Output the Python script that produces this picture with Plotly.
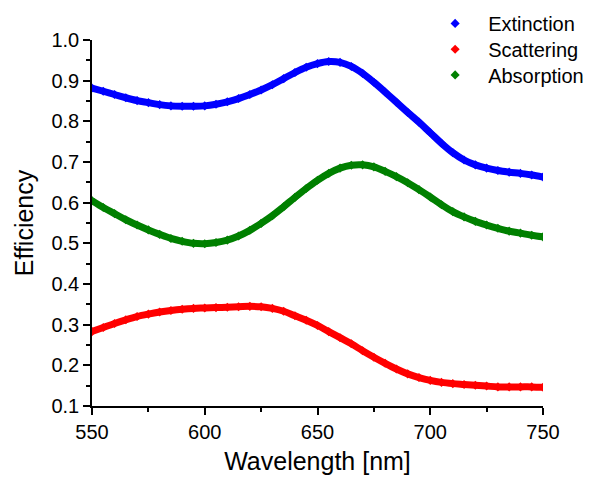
import plotly.graph_objects as go

wavelength = list(range(550, 751, 5))

extinction = [0.882, 0.874, 0.866, 0.858, 0.851, 0.846, 0.841, 0.838, 0.837, 0.837,
              0.838, 0.842, 0.848, 0.856, 0.866, 0.877, 0.890, 0.905, 0.920, 0.933,
              0.942, 0.947, 0.945, 0.935, 0.918, 0.896, 0.872, 0.847, 0.822, 0.798,
              0.772, 0.746, 0.723, 0.705, 0.693, 0.685, 0.679, 0.675, 0.672, 0.668, 0.663]

scattering = [0.283, 0.293, 0.303, 0.312, 0.320, 0.326, 0.331, 0.335, 0.338, 0.340,
              0.341, 0.342, 0.343, 0.344, 0.345, 0.344, 0.340, 0.333, 0.322, 0.311,
              0.298, 0.283, 0.268, 0.253, 0.236, 0.220, 0.205, 0.191, 0.179, 0.170,
              0.163, 0.158, 0.155, 0.153, 0.151, 0.149, 0.147, 0.147, 0.147, 0.147, 0.146]

absorption = [0.605, 0.588, 0.573, 0.558, 0.545, 0.533, 0.522, 0.512, 0.505, 0.500,
              0.499, 0.502, 0.508, 0.518, 0.532, 0.549, 0.568, 0.590, 0.613, 0.635,
              0.655, 0.672, 0.685, 0.692, 0.693, 0.688, 0.677, 0.664, 0.649, 0.632,
              0.614, 0.595, 0.578, 0.565, 0.554, 0.545, 0.537, 0.530, 0.525, 0.520, 0.516]

series = [("Extinction", extinction, "#0000ff"),
          ("Scattering", scattering, "#ff0000"),
          ("Absorption", absorption, "#008000")]

legend_ids = ["legend", "legend2", "legend3"]
legend_y = [1.0986, 1.0281, 0.9579]

fig = go.Figure()
for (name, vals, col), lid in zip(series, legend_ids):
    fig.add_trace(go.Scatter(x=wavelength, y=vals, mode="lines", legendgroup=name,
                             showlegend=False, line=dict(color=col, width=7, shape="spline"),
                             hoverinfo="skip"))
    fig.add_trace(go.Scatter(x=wavelength, y=vals, mode="markers", name=name, legendgroup=name,
                             legend=lid, marker=dict(symbol="diamond", size=7, color=col)))

font_family = "Liberation Sans, Arial, sans-serif"
legend_common = dict(x=0.732, xanchor="left", yanchor="top", font=dict(size=20),
                     bgcolor="rgba(0,0,0,0)", itemwidth=56)

fig.update_layout(
    width=585, height=471,
    margin=dict(l=84, r=50, t=32, b=73, autoexpand=False),
    paper_bgcolor="white", plot_bgcolor="white",
    font=dict(family=font_family, color="black", size=20),
    showlegend=True,
    legend=dict(y=legend_y[0], **legend_common),
    legend2=dict(y=legend_y[1], **legend_common),
    legend3=dict(y=legend_y[2], **legend_common),
    xaxis=dict(range=[550, 750], tickvals=[550, 600, 650, 700, 750],
               showline=True, linecolor="black", linewidth=1.5,
               ticks="outside", ticklen=7, tickwidth=1.5, tickcolor="black",
               minor=dict(ticks="outside", ticklen=4, tickwidth=1.5, tickcolor="black", dtick=25, tick0=550),
               showgrid=False, zeroline=False,
               title=dict(text="Wavelength [nm]", font=dict(size=25), standoff=11)),
    yaxis=dict(range=[0.1, 1.0], tickvals=[0.1, 0.2, 0.3, 0.4, 0.5, 0.6, 0.7, 0.8, 0.9, 1.0],
               tickformat=".1f",
               showline=True, linecolor="black", linewidth=1.5,
               ticks="outside", ticklen=7, tickwidth=1.5, tickcolor="black",
               minor=dict(ticks="outside", ticklen=4, tickwidth=1.5, tickcolor="black", dtick=0.05, tick0=0.1),
               showgrid=False, zeroline=False,
               title=dict(text="Efficiency", font=dict(size=25), standoff=11)),
)

fig.write_html("out.html")
